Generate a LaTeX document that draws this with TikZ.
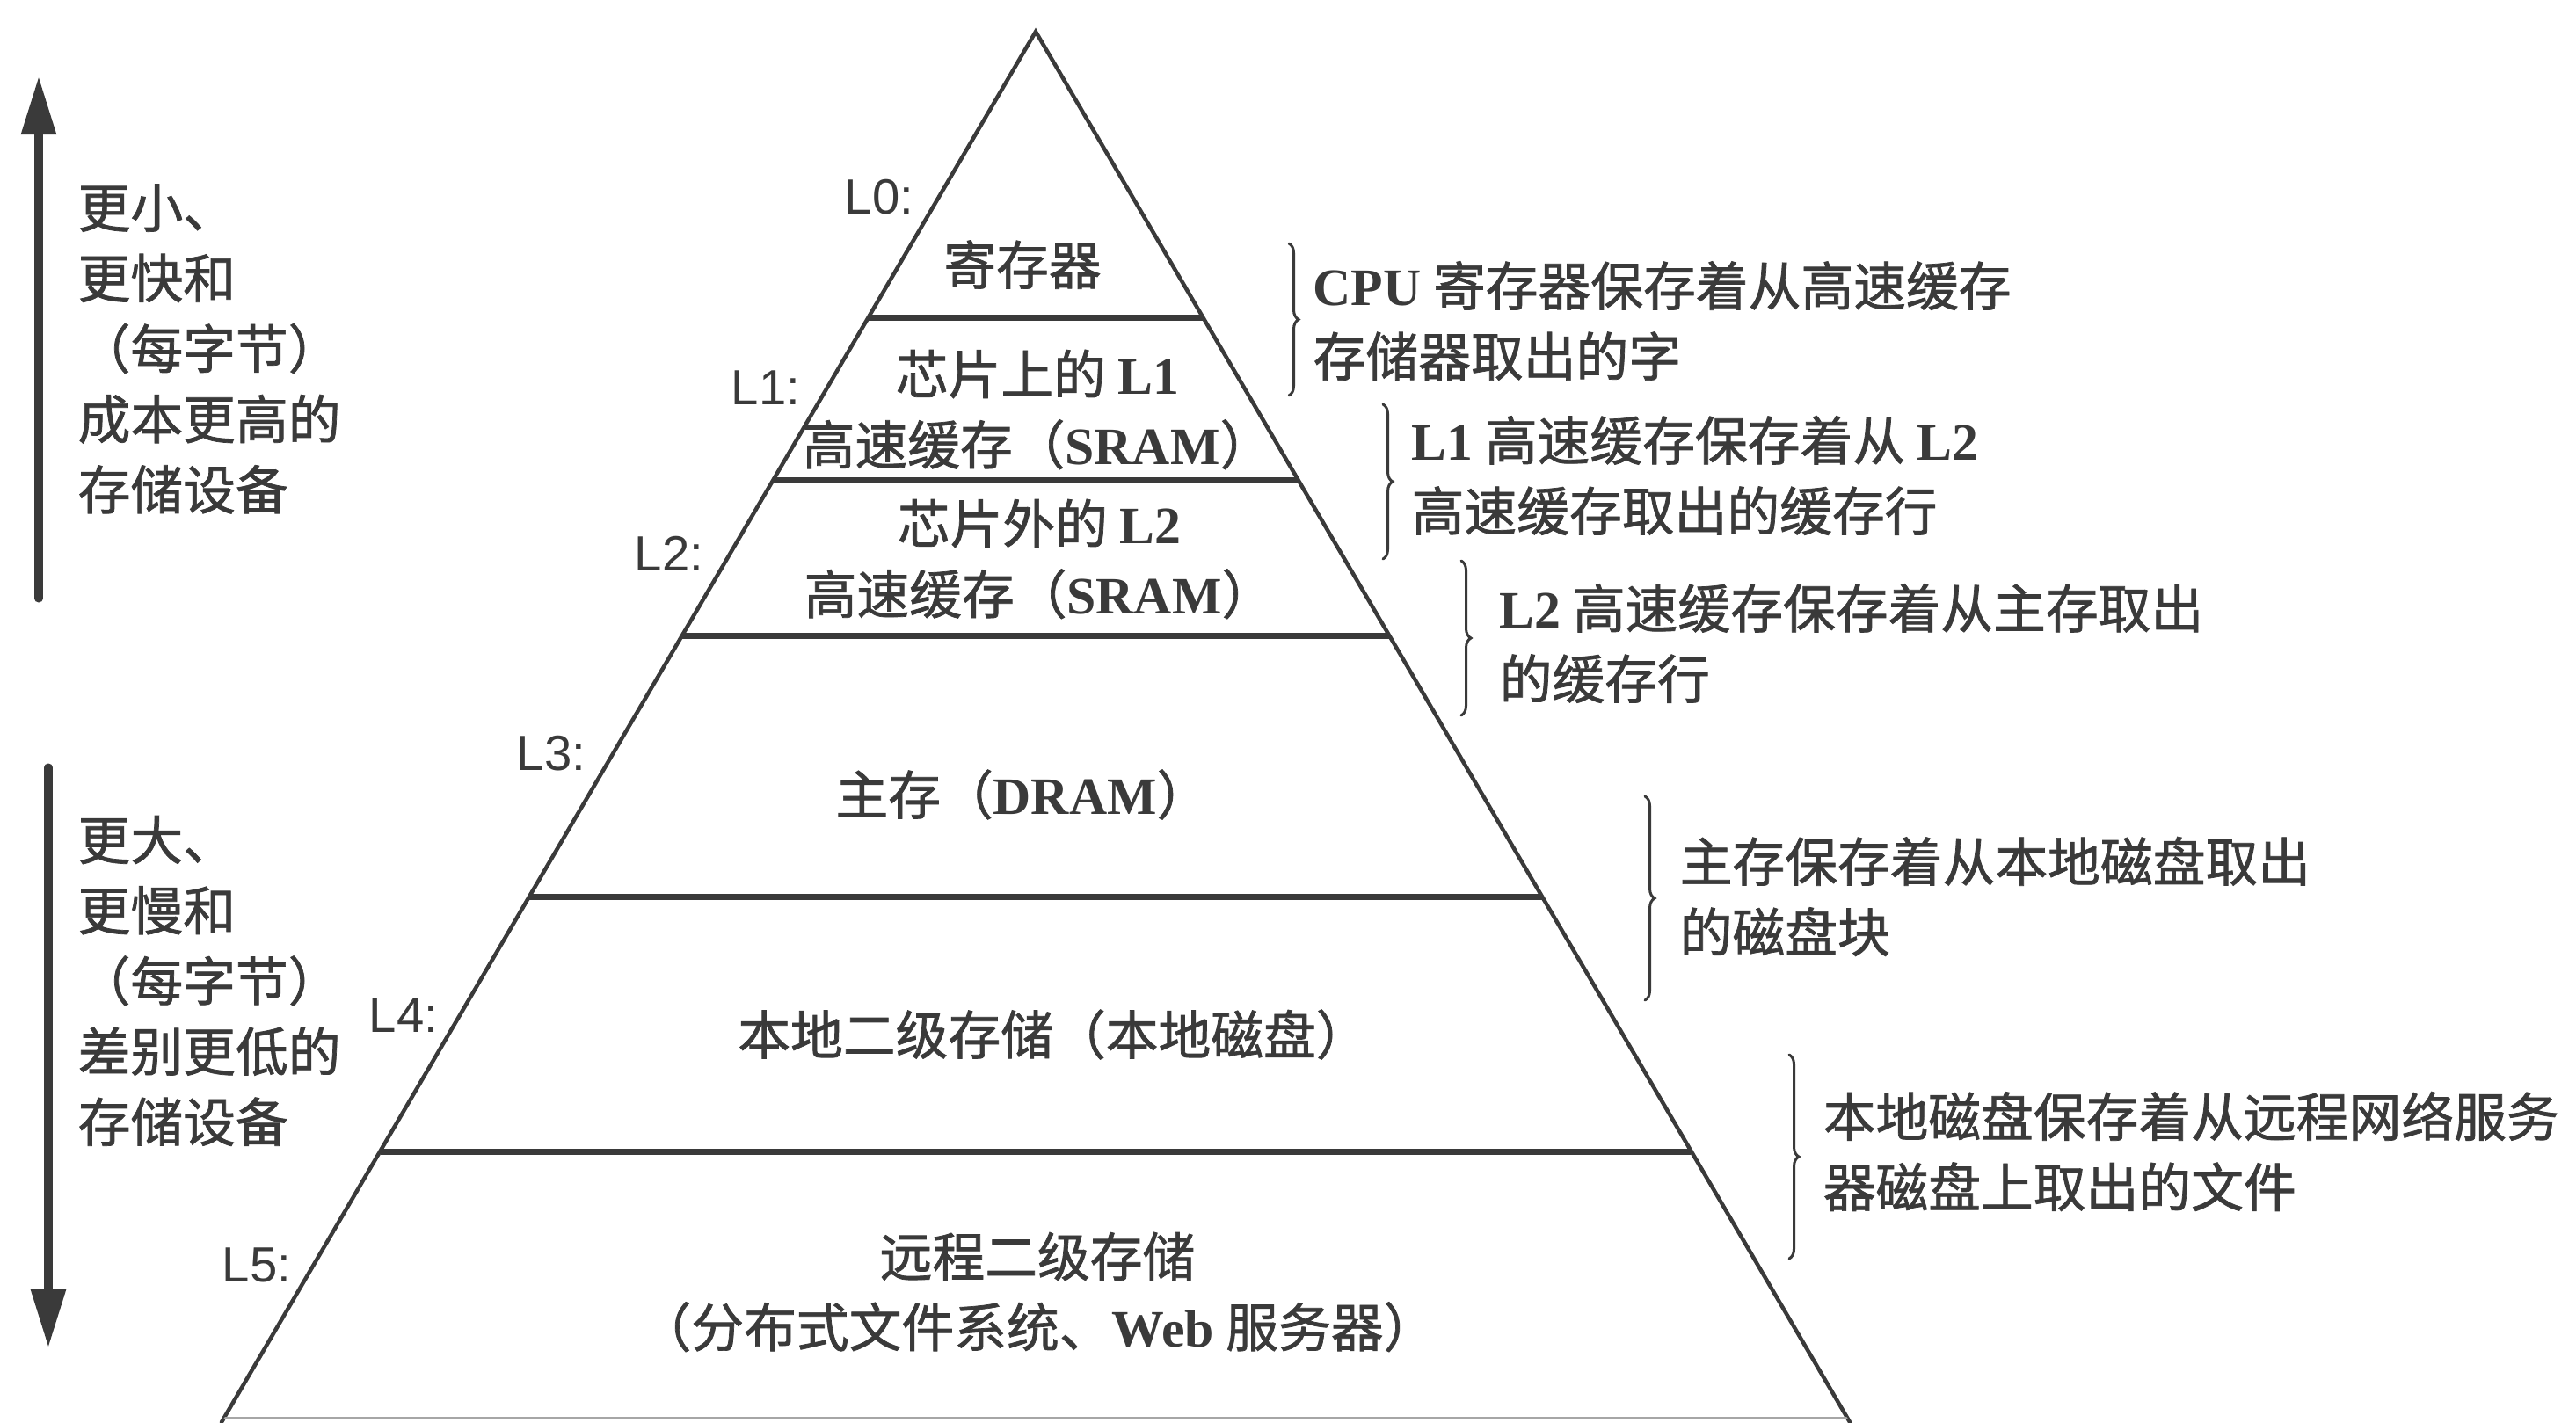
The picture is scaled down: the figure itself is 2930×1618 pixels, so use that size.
\documentclass[tikz,border=0pt]{standalone}
\usepackage{fontspec}
\setmainfont{Liberation Serif}
\newfontfamily\cjk[FakeBold=1.2]{Noto Sans CJK SC}
\newfontfamily\lsans{Liberation Sans}
\usetikzlibrary{arrows.meta,decorations.pathreplacing}
\definecolor{ink}{HTML}{3A3A3A}
\newcommand{\lat}[1]{{\rmfamily\bfseries #1}}

\begin{document}
\begin{tikzpicture}[x=0.01cm,y=-0.01cm,>={Triangle[length=6.6mm,width=3.8mm]},line cap=round,
  side/.style={draw=ink,line width=0.45mm},
  divider/.style={draw=ink,line width=0.7mm,line cap=butt},
  cbrace/.style={draw=ink,line width=0.3mm,decorate,decoration={brace,amplitude=1.1mm}},
  zh/.style={text=ink,inner sep=0pt,align=center,font=\cjk\fontsize{17pt}{22.8pt}\selectfont},
  lvl/.style={text=ink,inner sep=0pt,font=\lsans\fontsize{16pt}{19pt}\selectfont}]
\useasboundingbox (0,0) rectangle (2930,1618);
\coordinate (apex) at (1178,36);
\draw[side] (252,1618) -- (apex) -- (2104,1618);
\draw[divider] (988,361) -- (1368,361);
\draw[divider] (880,546) -- (1476,546);
\draw[divider] (776,723) -- (1580,723);
\draw[divider] (602,1020) -- (1754,1020);
\draw[divider] (433,1310) -- (1923,1310);
\draw[ink!45,line width=0.3mm] (256,1613) -- (2100,1613);
\node[lvl] (l0) at (1000,224) {L0:};
\node[lvl] (l1) at (871,441) {L1:};
\node[lvl] (l2) at (761,630) {L2:};
\node[lvl] (l3) at (627,857) {L3:};
\node[lvl] (l4) at (459,1155) {L4:};
\node[lvl] (l5) at (292,1439) {L5:};
\node[zh] (reg) at (1163,301) {寄存器};
\node[zh] (sram1) at (1180,466) {芯片上的 \lat{L1}\\高速缓存（\lat{SRAM}）};
\node[zh] (sram2) at (1182,636) {芯片外的 \lat{L2}\\高速缓存（\lat{SRAM}）};
\node[zh] (dram) at (1163,904) {主存（\lat{DRAM}）};
\node[zh] (disk) at (1198,1177) {本地二级存储（本地磁盘）};
\node[zh] (remote) at (1180,1470) {远程二级存储\\（分布式文件系统、\lat{Web} 服务器）};
\draw[cbrace] (1466,277) -- (1466,450);
\node[zh,align=left,anchor=west] (n0) at (1493,365) {\lat{CPU} 寄存器保存着从高速缓存\\存储器取出的字};
\draw[cbrace] (1573,460) -- (1573,636);
\node[zh,align=left,anchor=west] (n1) at (1605,541) {\lat{L1} 高速缓存保存着从 \lat{L2}\\高速缓存取出的缓存行};
\draw[cbrace] (1662,638) -- (1662,814);
\node[zh,align=left,anchor=west] (n2) at (1705,732) {\lat{L2} 高速缓存保存着从主存取出\\的缓存行};
\draw[cbrace] (1871,906) -- (1871,1138);
\node[zh,align=left,anchor=west] (n3) at (1910,1020) {主存保存着从本地磁盘取出\\的磁盘块};
\draw[cbrace] (2035,1200) -- (2035,1432);
\node[zh,align=left,anchor=west] (n4) at (2073,1310) {本地磁盘保存着从远程网络服务\\器磁盘上取出的文件};
\coordinate (upfoot) at (44,681);
\coordinate (uptip) at (44,87);
\draw[->,ink,line width=0.9mm] (upfoot) -- (uptip);
\node[zh,align=left,anchor=west] (faster) at (88,397) {更小、\\更快和\\（每字节）\\成本更高的\\存储设备};
\coordinate (downtop) at (55,873);
\coordinate (downtip) at (55,1533);
\draw[->,ink,line width=0.9mm] (downtop) -- (downtip);
\node[zh,align=left,anchor=west] (slower) at (88,1116) {更大、\\更慢和\\（每字节）\\差别更低的\\存储设备};
\end{tikzpicture}
\end{document}
